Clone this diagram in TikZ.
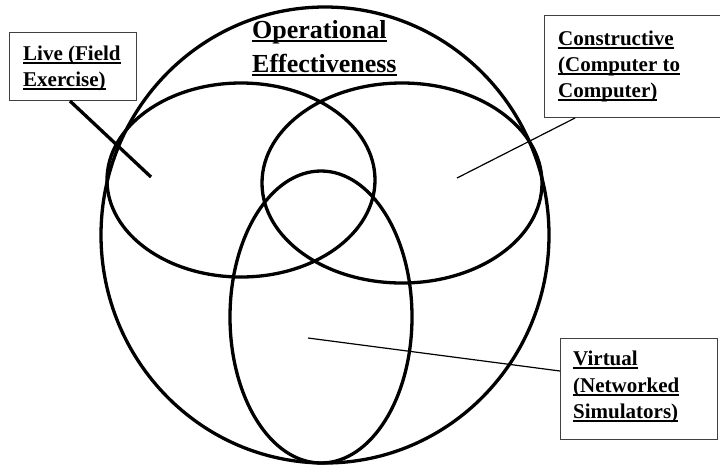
\documentclass[tikz,border=0pt]{standalone}
\usepackage{fontspec}
\setmainfont{Liberation Serif}
\newcommand\ulx[1]{\setbox0\hbox{#1}\rlap{\rule[-3.5pt]{\wd0}{1.8pt}}\box0}
\begin{document}
\begin{tikzpicture}[x=1pt,y=-1pt,
  venn/.style={line width=3.3pt},
  labelbox/.style={draw=black!75, line width=1pt, rectangle, inner sep=0pt, anchor=north west},
  labeltext/.style={anchor=base west, inner sep=0pt, font=\bfseries\fontsize{21}{26}\selectfont},
  thin/.style={line width=1.2pt},
  thick/.style={line width=3.3pt}]
\useasboundingbox (0,0) rectangle (720,467);
% Venn ellipses
\draw[venn] (325,235) ellipse [x radius=224, y radius=228];
\draw[venn] (241,180) ellipse [x radius=134, y radius=97];
\draw[venn] (402,183) ellipse [x radius=140, y radius=100];
\draw[venn] (321,317) ellipse [x radius=91, y radius=146];
% Title
\node[anchor=base west, inner sep=0pt, font=\bfseries\fontsize{26}{34}\selectfont] (title1) at (252,38) {\ulx{Operational}};
\node[anchor=base west, inner sep=0pt, font=\bfseries\fontsize{26}{34}\selectfont] (title2) at (252,72) {\ulx{Effectiveness}};
% Live box
\node[labelbox, minimum width=127pt, minimum height=68pt] (livebox) at (9,32) {};
\node[labeltext] (live1) at (23,60) {\ulx{Live (Field}};
\node[labeltext] (live2) at (23,86) {\ulx{Exercise)}};
\coordinate (liveend) at (151,177);
\draw[thick] ([xshift=61pt]livebox.south west) -- (liveend);
% Constructive box
\node[labelbox, minimum width=180pt, minimum height=102pt] (consbox) at (544,15) {};
\node[labeltext] (cons1) at (558,45) {\ulx{Constructive}};
\node[labeltext] (cons2) at (558,71) {\ulx{(Computer to}};
\node[labeltext] (cons3) at (558,97) {\ulx{Computer)}};
\coordinate (consend) at (457,178);
\draw[thin] ([xshift=31pt]consbox.south west) -- (consend);
% Virtual box
\node[labelbox, minimum width=157pt, minimum height=101pt] (virtbox) at (560,338) {};
\node[labeltext] (virt1) at (573,365) {\ulx{Virtual}};
\node[labeltext] (virt2) at (573,392) {\ulx{(Networked}};
\node[labeltext] (virt3) at (573,418) {\ulx{Simulators)}};
\coordinate (virtend) at (308,338);
\draw[thin] ([yshift=-33pt]virtbox.north west) -- (virtend);
\end{tikzpicture}
\end{document}
